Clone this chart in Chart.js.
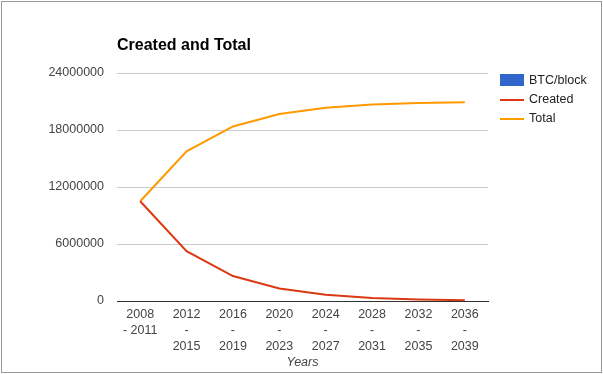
<!DOCTYPE html>
<html>
<head>
<meta charset="utf-8">
<script src="https://cdn.jsdelivr.net/npm/chart.js@4"></script>
<style>
    body { margin: 0; background: #fff; font-family: Arial, "Liberation Sans", sans-serif; }
    #wrap { position: relative; width: 603px; height: 374px; }
    #frame { position: absolute; left: 1px; top: 1px; width: 601px; height: 372px; box-sizing: border-box; border: 1px solid #999; pointer-events: none; }
    #title { position: absolute; left: 117px; top: 36px; font-size: 16px; font-weight: bold; color: #000; }
    #legend { position: absolute; left: 500px; top: 71px; font-size: 12.5px; color: #222; }
    .row { position: relative; height: 19px; line-height: 19px; padding-left: 29px; }
    .sw { position: absolute; left: 0; width: 24px; }
</style>
</head>
<body>
<div id="wrap">
    <canvas id="chart" width="603" height="374"></canvas>
    <div id="frame"></div>
    <div id="title">Created and Total</div>
    <div id="legend"></div>
</div>
<script>
const years = [
    ['2008', '- 2011'],
    ['2012', '-', '2015'],
    ['2016', '-', '2019'],
    ['2020', '-', '2023'],
    ['2024', '-', '2027'],
    ['2028', '-', '2031'],
    ['2032', '-', '2035'],
    ['2036', '-', '2039']
];
const btcPerBlock = [50, 25, 12.5, 6.25, 3.125, 1.5625, 0.78125, 0.390625];
const created = [10500000, 5250000, 2625000, 1312500, 656250, 328125, 164062, 82031];
const total = [10500000, 15750000, 18375000, 19687500, 20343750, 20671875, 20835937, 20917968];
const yTicks = [0, 6000000, 12000000, 18000000, 24000000];

const series = [
    { label: 'BTC/block', color: '#3366cc', kind: 'box' },
    { label: 'Created', color: '#dc3912', kind: 'line' },
    { label: 'Total', color: '#ff9900', kind: 'line' }
];

const legend = document.getElementById('legend');
series.forEach(s => {
    const row = document.createElement('div');
    row.className = 'row';
    const sw = document.createElement('span');
    sw.className = 'sw';
    if (s.kind === 'box') {
        sw.style.top = '3px';
        sw.style.height = '12px';
    } else {
        sw.style.top = '9px';
        sw.style.height = '2px';
    }
    sw.style.background = s.color;
    row.appendChild(sw);
    row.appendChild(document.createTextNode(s.label));
    legend.appendChild(row);
});

const tickFont = { family: 'Arial, "Liberation Sans", sans-serif', size: 12.5, lineHeight: 1.28 };

new Chart(document.getElementById('chart'), {
    data: {
        labels: years,
        datasets: [
            // the per-block reward is tiny on this scale, so its bars stay flat on the axis
            { type: 'bar', label: 'BTC/block', data: btcPerBlock, backgroundColor: '#3366cc', inflateAmount: 0, borderWidth: 0, order: 3 },
            { type: 'line', label: 'Created', data: created, borderColor: '#dc3912', borderWidth: 2, pointRadius: 0, tension: 0, order: 1 },
            { type: 'line', label: 'Total', data: total, borderColor: '#ff9900', borderWidth: 2, pointRadius: 0, tension: 0, order: 2 }
        ]
    },
    options: {
        responsive: false,
        animation: false,
        layout: { padding: { left: 0, top: 73, right: 115, bottom: 0 } },
        plugins: { legend: { display: false }, tooltip: { enabled: false } },
        scales: {
            x: {
                offset: true,
                grid: { display: false, drawTicks: false },
                border: { color: '#333', width: 1 },
                ticks: { color: '#444', font: tickFont, padding: 6, maxRotation: 0, autoSkip: false },
                title: {
                    display: true,
                    text: 'Years',
                    color: '#444',
                    font: { family: 'Arial, "Liberation Sans", sans-serif', size: 12.5, style: 'italic', lineHeight: 1.28 },
                    padding: { top: 0, bottom: 3 }
                },
                afterFit: scale => { scale.height = 73; }
            },
            y: {
                min: 0,
                max: 24000000,
                afterBuildTicks: scale => { scale.ticks = yTicks.map(v => ({ value: v })); },
                grid: {
                    drawTicks: false,
                    color: '#ccc',
                    // the zero line comes from the x axis border
                    lineWidth: ctx => (ctx.tick && ctx.tick.value === 0 ? 0 : 1)
                },
                border: { display: false },
                ticks: { color: '#444', font: tickFont, padding: 13, callback: v => String(v) },
                afterFit: scale => { scale.width = 117; }
            }
        }
    }
});
</script>
</body>
</html>
